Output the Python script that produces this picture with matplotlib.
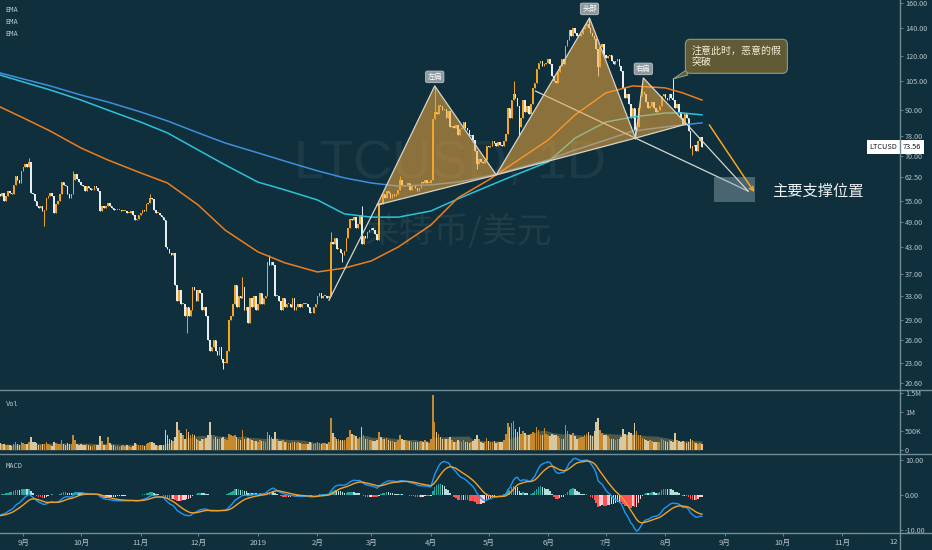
"""
LTCUSD 日线 头肩顶形态示意图
- 主图: K线 + 3 条 EMA + 头肩顶绘图
- 副图: 成交量, MACD
"""
import numpy as np
import pandas as pd
import matplotlib
matplotlib.use('Agg')
import matplotlib.pyplot as plt
import matplotlib.dates as mdates
from matplotlib import font_manager
from matplotlib.patches import Polygon, Rectangle
from matplotlib.ticker import NullLocator
from matplotlib.transforms import blended_transform_factory

plt.rcParams['font.family'] = ['Noto Sans CJK SC', 'DejaVu Sans']

# ---------------- 数据 ----------------
start_date = '2018-08-20'
first_open = 57.0

close_2018_08 = [56.5, 57.5, 55.0, 56.5, 58.0, 57.5, 57.0, 60.0, 63.0, 61.5, 60.5, 64.5]
close_2018_09 = [66.0, 67.0, 66.0, 68.0, 57.5, 57.0, 55.0, 53.5, 53.0, 53.5, 52.0, 52.5, 56.0, 56.5, 57.5,
                 56.5, 51.5, 54.0, 55.0, 57.0, 61.0, 60.0, 59.5, 57.0, 56.0, 57.0, 61.5, 63.5, 62.0, 61.0]
close_2018_10 = [60.0, 59.5, 58.0, 59.5, 59.0, 58.5, 58.5, 59.5, 59.0, 58.0, 52.0, 53.5, 53.0, 53.5, 54.5,
                 53.5, 53.0, 52.5, 52.5, 52.5, 52.5, 52.0, 52.0, 52.0, 51.5, 51.5, 52.0, 51.0, 49.5, 50.0, 51.0]
close_2018_11 = [51.5, 52.5, 52.0, 54.0, 54.5, 56.0, 55.5, 52.5, 51.5, 51.5, 51.0, 50.5, 49.5, 43.0, 42.5,
                 41.5, 41.0, 41.5, 35.0, 32.0, 34.0, 31.5, 31.5, 29.5, 31.0, 29.5, 30.5, 34.5, 34.0, 32.0]
close_2018_12 = [34.0, 33.5, 30.5, 31.0, 29.5, 26.0, 24.5, 25.0, 26.0, 24.5, 24.0, 25.0, 23.5, 23.0, 23.0,
                 24.5, 29.0, 29.5, 31.5, 35.0, 31.0, 33.0, 32.5, 34.5, 30.5, 31.0, 28.5, 32.5, 31.0, 33.0, 30.5]
close_2019_01 = [31.5, 33.5, 31.5, 32.5, 33.0, 39.5, 39.0, 39.5, 39.0, 33.0, 33.0, 32.0, 30.5, 32.5, 31.0,
                 31.5, 31.5, 31.0, 32.5, 30.5, 31.0, 31.5, 31.0, 31.5, 31.5, 31.5, 31.0, 30.0, 30.0, 31.0, 31.5]
close_2019_02 = [33.0, 33.5, 32.5, 33.0, 33.0, 32.5, 33.0, 44.0, 43.5, 45.0, 42.5, 42.5, 41.5, 41.0, 42.0,
                 45.0, 47.5, 50.0, 49.5, 50.5, 47.5, 48.5, 51.0, 43.5, 45.5, 45.0, 46.5, 47.0]
close_2019_03 = [47.5, 47.0, 46.0, 44.5, 54.5, 54.0, 57.0, 56.0, 58.0, 57.5, 56.0, 57.0, 56.5, 57.0, 58.5,
                 61.5, 60.0, 59.5, 59.5, 60.5, 58.5, 59.5, 60.0, 59.0, 58.0, 59.0, 61.0, 60.5, 61.5, 60.5, 60.5]
close_2019_04 = [61.5, 85.5, 89.0, 88.0, 92.5, 92.0, 90.0, 90.5, 86.0, 89.5, 82.0, 82.5, 81.5, 83.0, 78.5,
                 81.0, 81.5, 84.0, 81.5, 80.5, 78.0, 78.5, 76.5, 72.0, 67.0, 69.0, 68.0, 67.5, 68.5, 74.0]
close_2019_05 = [73.5, 74.0, 76.0, 75.0, 74.0, 75.5, 74.5, 74.0, 76.0, 79.0, 91.0, 86.0, 95.0, 98.0, 96.0,
                 92.0, 82.0, 86.0, 95.0, 89.0, 92.0, 88.0, 93.0, 101.0, 104.0, 112.0, 116.0, 117.0, 114.0, 115.0, 116.0]
close_2019_06 = [118.0, 115.0, 108.0, 105.0, 104.0, 110.0, 114.0, 118.0, 115.0, 127.0, 131.0, 138.0, 134.0, 140.0, 136.0,
                 134.0, 134.0, 135.0, 139.0, 141.0, 143.0, 140.0, 136.0, 134.0, 132.0, 125.0, 113.0, 126.0, 128.0, 121.0]
close_2019_07 = [119.0, 120.0, 121.0, 117.0, 115.0, 117.0, 118.0, 114.0, 111.0, 101.0, 96.0, 98.0, 93.0, 86.0, 91.0,
                 80.0, 82.0, 91.0, 97.0, 99.0, 98.0, 94.0, 91.0, 92.0, 94.0, 91.0, 89.0, 90.0, 92.0, 97.0, 98.0]
close_2019_08 = [96.0, 95.0, 98.0, 96.0, 95.0, 91.0, 93.0, 89.0, 86.0, 83.0, 88.0, 86.0, 80.0, 73.0, 74.0,
                 74.5, 72.0, 76.0, 77.5, 73.56]

# 明显的上下影线
wick_high_dates = ['2018-09-04', '2018-09-27', '2018-11-06', '2018-12-24', '2019-01-07', '2019-02-08',
                   '2019-02-24', '2019-03-16', '2019-04-03', '2019-05-14', '2019-06-22', '2019-07-20', '2019-08-05']
wick_high_values = [69.5, 64.8, 57.0, 36.5, 41.0, 46.5, 53.4, 63.0, 102.3, 105.0, 147.5, 103.5, 106.5]
wick_low_dates = ['2018-09-12', '2018-11-25', '2018-12-14', '2019-02-14', '2019-04-25', '2019-05-17',
                  '2019-06-27', '2019-07-16', '2019-08-15']
wick_low_values = [48.0, 27.0, 22.2, 39.5, 65.5, 78.0, 108.0, 77.0, 70.5]

# MACD 计算用的前期收盘价 (2018-07-11 ~ 2018-08-19)
warmup_close = [79.0, 76.0, 76.0, 77.0, 78.0, 84.0, 85.0, 83.0, 83.0, 82.0, 82.0, 81.0, 84.0, 88.0, 87.0,
                86.0, 86.0, 85.0, 84.0, 82.0, 77.0, 76.0, 75.0, 74.0, 72.0, 72.0, 70.0, 66.0, 62.0, 64.0,
                59.0, 58.0, 57.0, 53.0, 54.0, 55.0, 57.0, 58.0, 56.0, 57.0]

# 成交量 (千)
vol_2018_08 = [180, 150, 160, 140, 130, 120, 110, 170, 210, 150, 140, 200]
vol_2018_09 = [190, 160, 150, 220, 340, 210, 200, 180, 120, 130, 160, 150, 200, 170, 120,
               110, 220, 180, 150, 170, 260, 170, 140, 180, 160, 150, 390, 260, 170, 130]
vol_2018_10 = [150, 140, 130, 150, 120, 110, 100, 130, 120, 140, 370, 240, 130, 120, 330,
               180, 140, 120, 110, 100, 90, 110, 120, 110, 120, 100, 90, 100, 180, 160, 140]
vol_2018_11 = [130, 120, 110, 170, 180, 210, 200, 180, 140, 110, 120, 130, 140, 525, 400,
               300, 260, 240, 330, 740, 520, 450, 380, 300, 540, 480, 380, 420, 380, 300]
vol_2018_12 = [250, 230, 300, 280, 320, 380, 740, 400, 300, 350, 280, 300, 320, 330, 300,
               260, 420, 380, 360, 400, 330, 300, 260, 520, 300, 280, 320, 300, 260, 240, 230]
vol_2019_01 = [220, 260, 230, 240, 210, 480, 400, 350, 300, 480, 300, 230, 240, 260, 220,
               200, 190, 180, 200, 220, 190, 200, 180, 170, 160, 170, 160, 200, 190, 170, 180]
vol_2019_02 = [200, 180, 170, 190, 180, 170, 210, 840, 450, 350, 300, 280, 260, 250, 270,
               320, 350, 520, 420, 380, 360, 300, 330, 590, 380, 300, 280, 260]
vol_2019_03 = [250, 240, 230, 260, 460, 340, 300, 280, 320, 260, 240, 230, 220, 210, 260,
               380, 300, 260, 250, 240, 230, 220, 210, 200, 220, 200, 230, 220, 250, 200, 190]
vol_2019_04 = [300, 1450, 740, 480, 420, 350, 300, 280, 300, 280, 340, 260, 220, 200, 260,
               230, 220, 250, 220, 200, 190, 210, 230, 300, 380, 280, 220, 190, 200, 310]
vol_2019_05 = [240, 200, 220, 230, 190, 210, 200, 220, 260, 420, 720, 600, 700, 770, 560,
               480, 600, 420, 500, 450, 380, 400, 420, 480, 450, 600, 520, 400, 380, 570, 420]
vol_2019_06 = [380, 360, 420, 400, 380, 360, 320, 300, 280, 650, 500, 420, 380, 440, 360,
               300, 320, 340, 350, 380, 420, 460, 380, 360, 500, 740, 840, 520, 450, 400]
vol_2019_07 = [380, 360, 320, 300, 280, 260, 280, 300, 350, 540, 420, 380, 480, 440, 380,
               700, 500, 400, 380, 320, 280, 260, 240, 250, 230, 220, 200, 210, 220, 280, 260]
vol_2019_08 = [240, 220, 260, 240, 220, 440, 260, 240, 220, 230, 200, 190, 210, 300, 260,
               220, 180, 170, 190, 160]

# EMA 读数 (蓝 / 青 / 橙)
ema_dates = ['2018-08-20', '2018-09-01', '2018-09-15', '2018-10-01', '2018-10-15', '2018-11-01',
             '2018-11-15', '2018-12-01', '2018-12-15', '2019-01-01', '2019-01-15', '2019-02-01',
             '2019-02-15', '2019-03-01', '2019-03-15', '2019-04-01', '2019-04-15', '2019-05-01',
             '2019-05-15', '2019-06-01', '2019-06-15', '2019-07-01', '2019-07-15', '2019-08-01',
             '2019-08-10', '2019-08-20']
ema_blue = [109.7, 106.2, 102.3, 97.4, 93.8, 88.9, 84.7, 79.4, 75.2, 71.3, 68.2, 64.7, 62.3, 60.6,
            59.6, 60.0, 60.9, 62.9, 65.4, 68.6, 72.4, 76.4, 80.2, 82.0, 82.9, 83.8]
ema_cyan = [108.5, 104.5, 100.1, 94.8, 89.8, 84.2, 79.4, 72.4, 66.8, 60.9, 58.4, 55.3, 51.3, 50.4,
            50.4, 52.1, 55.6, 59.6, 63.3, 67.9, 77.2, 84.2, 86.5, 88.4, 88.4, 87.5]
ema_orange = [91.3, 86.1, 80.2, 73.2, 68.6, 64.0, 60.6, 53.8, 47.0, 41.8, 39.4, 37.5, 38.3, 39.8,
              42.9, 48.3, 55.9, 61.6, 67.9, 76.4, 87.5, 98.5, 102.3, 101.2, 98.5, 94.8]

# 头肩顶绘图点: 起点, 颈线左, 左肩, 颈线点1, 头部, 颈线点2, 右肩, 颈线右, 终点
hs_dates = ['2019-02-07', '2019-03-04', '2019-04-03', '2019-05-05', '2019-06-22 12:00',
            '2019-07-16 10:00', '2019-07-20 12:00', '2019-08-12', '2019-09-13']
hs_prices = [32.2, 53.8, 102.3, 63.3, 147.6, 77.2, 106.8, 83.3, 58.0]
hs_labels = ['左肩', '头部', '右肩']

proj_line_dates = ['2019-05-25 10:00', '2019-09-13']
proj_line_prices = [99.5, 58.0]
arrow_dates = ['2019-08-23 20:00', '2019-09-16 05:00']
arrow_prices = [82.9, 57.7]
support_dates = ['2019-08-26 10:00', '2019-09-16 17:00']
support_prices = [54.7, 62.6]
support_text_date = '2019-09-25 14:00'
support_text_price = 58.0
note_text = '注意此时，恶意的假\n突破'
note_date = '2019-08-14 12:00'
note_price = 120.0
note_tip_date = '2019-08-05'
note_tip_price = 106.2
last_price = 73.56

price_ticks = [160, 140, 120, 105, 90, 78, 70, 62.5, 55, 49, 43, 37, 33, 29, 26, 23, 20.6]
month_labels = ['9月', '10月', '11月', '12月', '2019', '2月', '3月', '4月', '5月', '6月',
                '7月', '8月', '9月', '10月', '11月']


def dnum(values):
    return mdates.date2num(pd.to_datetime(values, format='mixed'))


# ---------------- 整理 ----------------
close = np.array(close_2018_08 + close_2018_09 + close_2018_10 + close_2018_11 + close_2018_12 +
                 close_2019_01 + close_2019_02 + close_2019_03 + close_2019_04 + close_2019_05 +
                 close_2019_06 + close_2019_07 + close_2019_08)
volume = np.array(vol_2018_08 + vol_2018_09 + vol_2018_10 + vol_2018_11 + vol_2018_12 +
                  vol_2019_01 + vol_2019_02 + vol_2019_03 + vol_2019_04 + vol_2019_05 +
                  vol_2019_06 + vol_2019_07 + vol_2019_08) * 1000.0
dates = pd.date_range(start_date, periods=len(close), freq='D')
xd = mdates.date2num(dates)

opn = np.concatenate([[first_open], close[:-1]])
high = np.maximum(opn, close)
low = np.minimum(opn, close)
idx = pd.Series(np.arange(len(dates)), index=dates)
for d, v in zip(wick_high_dates, wick_high_values):
    k = idx[pd.Timestamp(d)]
    high[k] = max(high[k], v)
for d, v in zip(wick_low_dates, wick_low_values):
    k = idx[pd.Timestamp(d)]
    low[k] = min(low[k], v)

up = close >= opn
UP_C, DN_C = '#f6a521', '#e6eef1'
candle_colors = np.where(up, UP_C, DN_C)

# MACD(12, 26, 9)
full = pd.Series(warmup_close + list(close))
macd_full = full.ewm(span=12, adjust=False).mean() - full.ewm(span=26, adjust=False).mean()
signal_full = macd_full.ewm(span=9, adjust=False).mean()
macd = macd_full.values[-len(close):]
signal = signal_full.values[-len(close):]
hist = macd - signal
hist_prev = (macd_full - signal_full).values[-len(close) - 1:-1]
hist_colors = np.where(hist >= 0,
                       np.where(hist >= hist_prev, '#26a69a', '#b2dfdb'),
                       np.where(hist < hist_prev, '#ff5252', '#ffcdd2'))

vol_ma = pd.Series(volume).rolling(20, min_periods=1).mean().values

# ---------------- 画图 ----------------
BG = '#0f2f3c'
SEP = '#6f8c97'
TXT = '#b9c5ca'
W, H = 932, 550
fig = plt.figure(figsize=(W / 100, H / 100), dpi=100, facecolor=BG)
ax = fig.add_axes([0, 160 / H, 900 / W, 390 / H], facecolor=BG)
axv = fig.add_axes([0, 96 / H, 900 / W, 63 / H], facecolor=BG, sharex=ax)
axm = fig.add_axes([0, 17 / H, 900 / W, 79 / H], facecolor=BG, sharex=ax)

for a in (ax, axv, axm):
    for s in a.spines.values():
        s.set_visible(False)
    a.yaxis.tick_right()
    a.tick_params(axis='y', colors=SEP, labelcolor=TXT, labelsize=5.2, length=2, width=0.6, pad=1.5)
    a.tick_params(axis='x', colors=SEP, labelcolor=TXT, labelsize=5.5, length=2.5, width=0.6, pad=1.5)
ax.tick_params(axis='x', labelbottom=False, length=0)
axv.tick_params(axis='x', labelbottom=False, length=0)

# 水印
names = {f.name for f in font_manager.fontManager.ttflist}
if 'Liberation Sans Narrow' in names:
    wm_family, wm_size = 'Liberation Sans Narrow', 48
else:
    wm_family, wm_size = 'Liberation Sans', 39
ax.text(0.5, 0.579, 'LTCUSD, 1D', transform=ax.transAxes, ha='center', va='center',
        fontsize=wm_size, family=wm_family, color='white', alpha=0.06, zorder=0)
ax.text(0.509, 0.405, '莱特币/美元', transform=ax.transAxes, ha='center', va='center',
        fontsize=25, color='white', alpha=0.07, zorder=0)

# K 线
ax.vlines(xd, low, high, colors=candle_colors, lw=0.7, zorder=3)
body = np.maximum(np.abs(close - opn), close * 0.005)
ax.bar(xd, body, bottom=np.minimum(opn, close), width=0.78, color=candle_colors, lw=0, zorder=3)

# EMA
ex = dnum(ema_dates)
ax.plot(ex, ema_blue, color='#3f8fdc', lw=1.1, zorder=4)
ax.plot(ex, ema_cyan, color='#2bc3d8', lw=1.1, zorder=4)
ax.plot(ex, ema_orange, color='#f07d1c', lw=1.1, zorder=4)
for k in range(3):
    ax.text(0.006, 1 - (10 + 12 * k) / 390, 'EMA', transform=ax.transAxes, va='center',
            fontsize=5, family='DejaVu Sans Mono', color=TXT)

# 投影线
ax.plot(dnum(proj_line_dates), proj_line_prices, color='#d6d8d2', lw=0.9, zorder=4.5)

# 头肩顶
hx = dnum(hs_dates)
hp = np.array(hs_prices)
FILL = '#f2a83c'
EDGE = '#d8d5c8'
for tri in ([1, 2, 3], [3, 4, 5], [5, 6, 7]):
    ax.add_patch(Polygon(np.column_stack([hx[tri], hp[tri]]), closed=True, fc=FILL, alpha=0.55,
                         ec='none', zorder=5))
ax.plot(hx, hp, color=EDGE, lw=0.9, zorder=6)
ax.plot(hx[[1, 3, 5, 7]], hp[[1, 3, 5, 7]], color=EDGE, lw=0.9, zorder=6)
for lab, k in zip(hs_labels, [2, 4, 6]):
    ax.annotate(lab, xy=(hx[k], hp[k]), xytext=(0, 6.5), textcoords='offset points',
                ha='center', va='center', fontsize=5.3, color='white', zorder=8,
                bbox=dict(boxstyle='round,pad=0.25', fc='#8d9aa0', ec='#c9d1d5', lw=0.5))

# 支撑区与箭头
sx = dnum(support_dates)
ax.add_patch(Rectangle((sx[0], support_prices[0]), sx[1] - sx[0], support_prices[1] - support_prices[0],
                       fc='#8fa9b3', alpha=0.45, ec='none', zorder=5))
axx = dnum(arrow_dates)
ax.annotate('', xy=(axx[1], arrow_prices[1]), xytext=(axx[0], arrow_prices[0]), zorder=7,
            arrowprops=dict(arrowstyle='->', color='#f5a623', lw=1.1, shrinkA=0, shrinkB=0,
                            mutation_scale=7))
ax.text(dnum([support_text_date])[0], support_text_price, '主要支撑位置',
        ha='left', va='center', fontsize=11, color='#eef2f3', zorder=8)

# 标注框
ax.annotate(note_text, xy=(dnum([note_tip_date])[0], note_tip_price),
            xytext=(dnum([note_date])[0], note_price), textcoords='data',
            ha='left', va='center', fontsize=7.2, color='#f3efd9', linespacing=1.25, zorder=9,
            bbox=dict(boxstyle='round,pad=0.6,rounding_size=0.5', fc='#625a34', ec='#8c9a86', lw=0.8),
            arrowprops=dict(arrowstyle='wedge,tail_width=0.5', fc='#625a34', ec='#8c9a86', lw=0.8,
                            relpos=(0.08, 0.0), shrinkA=0, shrinkB=0))

# 当前价格标签
tr = blended_transform_factory(ax.transAxes, ax.transData)
ax.text(1.003, last_price, f'{last_price:.2f}', transform=tr, ha='left', va='center', fontsize=5.3,
        color='#131722', clip_on=False, zorder=10,
        bbox=dict(boxstyle='square,pad=0.35', fc='white', ec='none'))
ax.text(0.997, last_price, 'LTCUSD', transform=tr, ha='right', va='center', fontsize=5.3,
        color='#131722', clip_on=False, zorder=10,
        bbox=dict(boxstyle='square,pad=0.35', fc='white', ec='none'))

ax.set_yscale('log')
ax.set_yticks(price_ticks)
ax.set_yticklabels([f'{t:.2f}' for t in price_ticks])
ax.yaxis.set_minor_locator(NullLocator())
ax.set_ylim(19.84, 162.6)

# 成交量
axv.fill_between(xd, 0, vol_ma, color='#807d55', alpha=0.55, lw=0, zorder=1)
axv.bar(xd, volume, width=0.8, color=np.where(up, '#c68a2c', '#d8c7a1'), lw=0, zorder=2)
axv.set_ylim(-0.105e6, 1.545e6)
axv.set_yticks([0, 0.5e6, 1e6, 1.5e6])
axv.set_yticklabels(['0', '500K', '1M', '1.5M'])
axv.text(0.006, 1 - 13 / 63, 'Vol', transform=axv.transAxes, va='center', fontsize=5,
         family='DejaVu Sans Mono', color=TXT)

# MACD
axm.bar(xd, hist, width=0.8, color=hist_colors, lw=0, zorder=2)
axm.plot(xd, macd, color='#2196f3', lw=1.0, zorder=3)
axm.plot(xd, signal, color='#f2a22c', lw=1.0, zorder=3)
axm.set_ylim(-10.86, 11.71)
axm.set_yticks([-10, 0, 10])
axm.set_yticklabels(['-10.00', '0.00', '10.00'])
axm.text(0.006, 1 - 12 / 79, 'MACD', transform=axm.transAxes, va='center', fontsize=5,
         family='DejaVu Sans Mono', color=TXT)

# 时间轴
mt = mdates.date2num(pd.date_range('2018-09-01', '2019-11-01', freq='MS'))
axm.set_xticks(mt)
axm.set_xticklabels(month_labels)
x_end = mdates.date2num(pd.Timestamp('2019-12-01'))
axm.text(x_end - 1, -13.3, '12', ha='right', va='center', fontsize=5.5, color=TXT, clip_on=False)
ax.set_xlim(mdates.date2num(pd.Timestamp(start_date)) - 0.1, x_end)

# 分隔线
for yy in (160 / H, 96 / H, 17 / H):
    fig.add_artist(plt.Line2D([0, 1], [yy, yy], transform=fig.transFigure, color=SEP, lw=1))
fig.add_artist(plt.Line2D([900 / W, 900 / W], [0, 1], transform=fig.transFigure, color=SEP, lw=1))

plt.savefig('out.png', dpi=100, facecolor=BG)
plt.close()
